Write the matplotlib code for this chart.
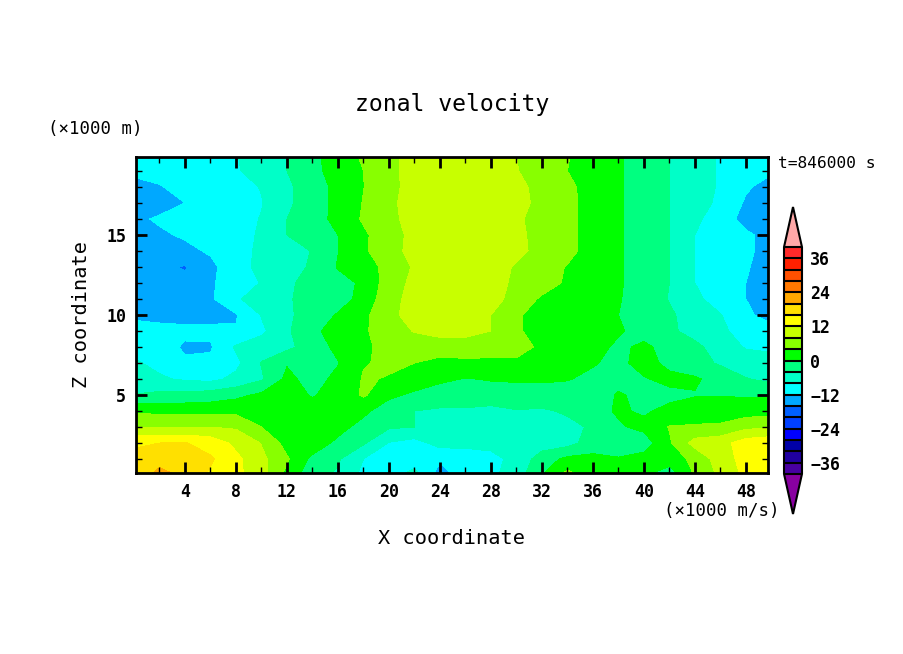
import numpy as np
import matplotlib
matplotlib.use("Agg")
import matplotlib.pyplot as plt
from matplotlib.colors import ListedColormap, BoundaryNorm

x_km = list(range(0, 51, 2))
z_km = [0.1] + list(range(1, 20)) + [19.9]

row_00 = [17.5,21,19,15.5,13,9.5,3,-2.5,-4.5,-9,-9.5,-7,-13.5,-10,-9,-6,-0.5,5,1.5,0.5,1,-2,4.5,9,13,14]
row_01 = [17,18.5,18.5,16.5,13,9,4.5,-1,-3.5,-8,-9.5,-10,-11.5,-10,-9,-7,-2,1,1,0.2,1.5,2,5,10,13.5,15]
row_02 = [15.5,16,16.2,14.5,11,7.8,2.5,2.5,-1,-3.5,-8.2,-9.5,-6.5,-7,-7,-6.5,-6,-5.5,-2,-1.5,-2,3.5,9.5,10.5,14,15]
row_03 = [7.5,7.5,7.8,8,7.5,4,1.5,3,1.5,-1.5,-3.5,-4,-6.5,-6,-5.5,-5.5,-5.5,-5,-3.5,-0.5,1,4.2,4.5,4.8,7,7.5]
row_04 = [3.5,3,2.8,2.8,3,2.5,2,1.5,2,1,-2.5,-4,-4.5,-4.5,-5,-4.2,-4.5,-3.5,-1.5,0.5,-0.5,1,1.5,1.5,2,2.5]
row_05 = [-3.8,-3,-2.8,-2.2,-1,0.8,1.5,-0.3,1.5,4.5,1,-0.8,-2,-2,-2,-1.8,-1.5,-1.5,-1.2,0.2,-0.5,-1,-0.2,-0.2,-0.3,-0.5]
row_06 = [-7,-7.5,-8.5,-9,-7,-4.5,1,-1.5,1,4.3,3.8,2.5,0.8,-0.2,0.3,0.5,0.5,0.2,-0.8,-0.7,-0.3,1,0.5,-1.5,-3.8,-5]
row_07 = [-7.5,-9,-11.4,-11.2,-9,-3.8,-0.3,-2,-0.2,3.8,4.5,4,2.5,3,3,3.5,3,2.5,0.3,-1,1.5,-1,-2.5,-4.5,-6,-7]
row_08 = [-9.5,-10,-12.6,-12.4,-7.5,-6,-5,-2,1,3.4,5,6,6.5,6.5,6,5,3.5,2,1.5,-0.8,0.8,-1.5,-3,-6,-8.3,-8.5]
row_09 = [-11,-11,-11,-11.3,-11.7,-8.8,-4.6,-0.8,1.5,3.4,6.3,8.2,9,9,8,4.5,2.5,2,1.5,0.5,-1.5,-3.2,-5.5,-7,-10,-11]
row_10 = [-12.5,-13,-13.5,-13,-12.3,-7.8,-4.6,-2.5,0.4,3,7,9.5,10.5,10.5,8,4.5,2.5,2,1.5,0,-1.8,-3.5,-5.5,-7.8,-11.5,-13]
row_11 = [-15,-15,-14.5,-12.6,-8.5,-6.2,-4.3,-3,-2,1.5,6.5,9.5,11,11,10,6,3.5,2.5,2,0.3,-2,-4.2,-7,-10,-12,-13.5]
row_12 = [-15,-15,-15,-12.5,-10,-7.8,-4.5,-3,-1.5,0.7,6,9,11,11,10,7,5.5,3.5,2,0.5,-2,-4,-8,-10,-12,-13.5]
row_13 = [-15,-15.3,-16.3,-13,-9.5,-7,-5.5,-3.5,0.3,2.5,5,8.5,11,11,10,7.5,5.5,3.8,2,0.5,-2,-4,-8,-10,-11.7,-13.5]
row_14 = [-15,-14.5,-13,-11.5,-9.5,-7.2,-6,-3.8,-0.1,3.3,6.8,9,11,11,11,9,6.8,5,2.5,0.5,-2,-4,-8,-9.5,-11.5,-13]
row_15 = [-13.5,-12.6,-11.5,-10.5,-9.5,-7.5,-4,-2,0,3.3,6.5,9,10,10.5,10.5,8.8,6.8,5,2.5,0.5,-2,-4,-8,-9.5,-11.5,-13]
row_16 = [-12.8,-11.5,-10.5,-10,-9.5,-7.8,-4,-1.5,1,4.5,7.3,9,10,10,10,8.5,6.8,5,2.5,0.5,-2,-4,-7,-10.5,-13,-14]
row_17 = [-14,-13.5,-12,-10,-9.5,-8.2,-4.8,-1.8,1,4.2,7.5,9,10,10,10,9.2,7,5,2.5,0.5,-2,-4,-6,-9,-12.5,-14]
row_18 = [-13.5,-12.3,-10.5,-10,-9.5,-7.8,-4.8,-1.8,1,3.9,7.2,9,10,10,9.8,9,6.8,5,2.2,0.5,-2,-4,-6,-8.5,-11.5,-13.5]
row_19 = [-11,-10.5,-10,-9.5,-8.5,-6,-4,-1,1.5,4,7.3,9,10,10,9.5,8.2,6,4,2,0.5,-2,-4,-6,-8.5,-10.5,-11.5]
row_20 = [-10,-10,-10,-9.5,-8.2,-6,-4,-1,2,4.5,7.3,9,10,10,9.5,8,6,4.2,2,0.5,-2,-4,-6,-8.5,-10,-11]

velocity = np.array([row_00,row_01,row_02,row_03,row_04,row_05,row_06,row_07,row_08,row_09,row_10,
                     row_11,row_12,row_13,row_14,row_15,row_16,row_17,row_18,row_19,row_20])

levels = list(range(-40, 41, 4))
band_colors = ["#4800a0","#2000a0","#0000a8","#0000ff","#0040ff","#0060ff","#00a8ff","#00ffff",
               "#00ffc8","#00ff80","#00ff00","#88ff00","#c8ff00","#ffff00","#ffe000","#ffa800",
               "#ff7800","#ff5000","#ff2000","#ff2a2a"]
bar_ticks = [-36,-24,-12,0,12,24,36]
x_ticks = list(range(4, 49, 4))
z_ticks = [5, 10, 15]

W, H = 904, 654
plt.rcParams["font.family"] = "DejaVu Sans Mono"
fig = plt.figure(figsize=(W/100, H/100), dpi=100, facecolor="white")
ax = fig.add_axes([136/W, 1-473/H, 632/W, 316/H])

cmap = ListedColormap(band_colors)
cmap.set_under("#8800a0")
cmap.set_over("#ffa8a8")
norm = BoundaryNorm(levels, cmap.N)
cf = ax.contourf(x_km, z_km, velocity, levels=levels, cmap=cmap, norm=norm, extend="both", antialiased=False)

ax.set_xlim(0.157, 49.73)
ax.set_ylim(0.125, 19.875)
ax.set_xticks(x_ticks)
ax.set_xticks(range(2, 50, 2), minor=True)
ax.set_yticks(z_ticks)
ax.set_yticks(range(1, 20), minor=True)
ax.tick_params(which="major", direction="in", length=8, width=2, top=True, right=True, labelsize=12, pad=7)
ax.tick_params(which="minor", direction="in", length=4, width=1, top=True, right=True)
for s in ax.spines.values():
    s.set_linewidth(2)
for lab in ax.get_xticklabels() + ax.get_yticklabels():
    lab.set_fontweight("bold")

cax = fig.add_axes([784/W, 1-514/H, 18/W, 307/H])
cb = fig.colorbar(cf, cax=cax, extend="both", extendfrac=40/226, drawedges=True, ticks=bar_ticks, spacing="uniform")
cb.outline.set_linewidth(1.5)
cb.dividers.set_linewidth(1.5)
cb.dividers.set_color("black")
cax.tick_params(length=0, labelsize=12, pad=6)
cax.minorticks_off()
for lab in cax.get_yticklabels():
    lab.set_fontweight("bold")

def put(px, py, s, size, **kw):
    fig.text(px/W, 1-py/H, s, fontsize=size, ha="center", va="center", **kw)

put(452, 104, "zonal velocity", 16.7)
put(95, 129, "(×1000 m)", 12.5)
put(827, 163, "t=846000 s", 11.7)
put(722, 511, "(×1000 m/s)", 12.5)
put(452, 539, "X coordinate", 14.6)
put(82, 315, "Z coordinate", 14.6, rotation=90)

fig.savefig("out.png", dpi=100)
